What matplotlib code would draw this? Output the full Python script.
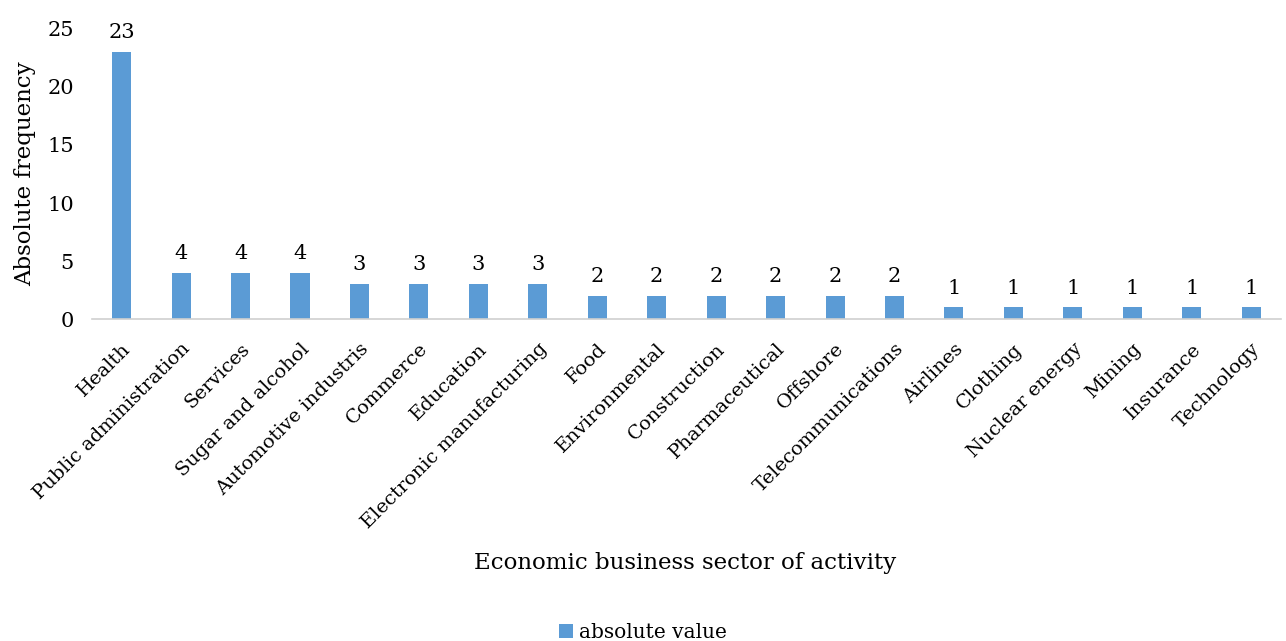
import matplotlib.pyplot as plt
import numpy as np

sectors = ["Health", "Public administration", "Services", "Sugar and alcohol",
           "Automotive industris", "Commerce", "Education",
           "Electronic manufacturing", "Food", "Environmental", "Construction",
           "Pharmaceutical", "Offshore", "Telecommunications", "Airlines",
           "Clothing", "Nuclear energy", "Mining", "Insurance", "Technology"]
counts = [23, 4, 4, 4, 3, 3, 3, 3, 2, 2, 2, 2, 2, 2, 1, 1, 1, 1, 1, 1]

plt.rcParams["font.family"] = ["DejaVu Serif"]

fig = plt.figure(figsize=(12.86, 6.41), dpi=100)
ax = fig.add_axes([0.0715, 0.5023, 0.9245, 0.4525])

x = np.arange(len(sectors))
bars = ax.bar(x, counts, width=0.32, color="#5B9BD5", label="absolute value")
for b, v in zip(bars, counts):
    ax.text(b.get_x() + b.get_width() / 2, v + 0.85, str(v),
            ha="center", va="bottom", fontsize=15)

ax.set_xlim(-0.5, len(sectors) - 0.5)
ax.set_ylim(0, 25)
ax.set_yticks([0, 5, 10, 15, 20, 25])
ax.tick_params(axis="y", length=0, labelsize=15, pad=13)
ax.tick_params(axis="x", length=0, labelsize=14, pad=15)
ax.set_xticks(x)
ax.set_xticklabels(sectors, rotation=45, ha="right", rotation_mode="anchor")

for s in ["top", "right", "left"]:
    ax.spines[s].set_visible(False)
ax.spines["bottom"].set_color("#d0d0d0")
ax.spines["bottom"].set_linewidth(1.2)

ax.set_ylabel("Absolute frequency", fontsize=16.5, labelpad=8)
fig.text(0.533, 0.122, "Economic business sector of activity", ha="center",
         va="center", fontsize=16.5)
fig.legend(handles=[bars], labels=["absolute value"], loc="center",
           bbox_to_anchor=(0.5, 0.013), frameon=False, fontsize=14.5,
           handlelength=0.7, handleheight=0.7, handletextpad=0.3)

fig.savefig("out.png", dpi=100)
